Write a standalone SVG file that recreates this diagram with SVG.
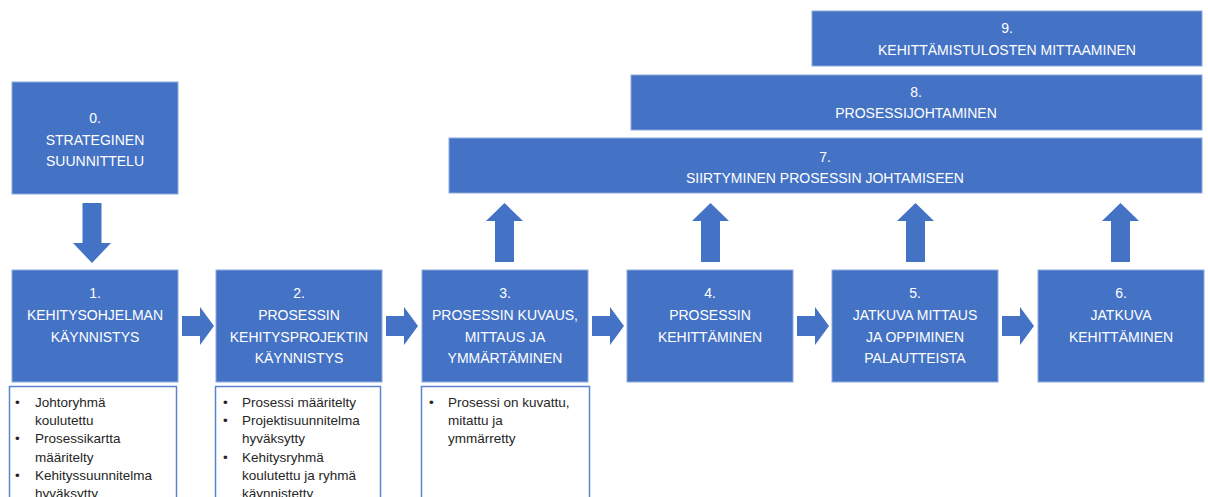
<svg xmlns="http://www.w3.org/2000/svg" width="1208" height="497" viewBox="0 0 1208 497">
<style>
.box{fill:#4472C4;stroke:#8eaadc;stroke-width:1}
.arr{fill:#4472C4}
.lbl{font-family:"Liberation Sans",Arial,sans-serif;font-size:14px;fill:#ffffff;text-anchor:middle}
.bb{fill:#ffffff;stroke:#5b85d0;stroke-width:1.5}
.bt{font-family:"Liberation Sans",Arial,sans-serif;font-size:13.5px;fill:#262626}
</style>
<rect width="1208" height="497" fill="#ffffff"/>
<g id="node9"><rect class="box" x="812" y="11" width="390" height="55"/>
<text class="lbl" x="1007" y="33">9.</text><text class="lbl" x="1007" y="55">KEHITTÄMISTULOSTEN MITTAAMINEN</text></g>
<g id="node8"><rect class="box" x="631" y="75" width="571" height="55"/>
<text class="lbl" x="916" y="97">8.</text><text class="lbl" x="916" y="118">PROSESSIJOHTAMINEN</text></g>
<g id="node7"><rect class="box" x="449" y="138" width="753" height="55"/>
<text class="lbl" x="825" y="162">7.</text><text class="lbl" x="825" y="183">SIIRTYMINEN PROSESSIN JOHTAMISEEN</text></g>
<g id="node0"><rect class="box" x="12" y="82" width="166" height="112"/>
<text class="lbl" x="95" y="123">0.</text><text class="lbl" x="95" y="145">STRATEGINEN</text><text class="lbl" x="95" y="166">SUUNNITTELU</text></g>
<g id="node1"><rect class="box" x="12" y="270" width="166" height="112"/>
<text class="lbl" x="95" y="298">1.</text><text class="lbl" x="95" y="320">KEHITYSOHJELMAN</text><text class="lbl" x="95" y="342">KÄYNNISTYS</text></g>
<g id="node2"><rect class="box" x="216" y="270" width="166" height="112"/>
<text class="lbl" x="299" y="298">2.</text><text class="lbl" x="299" y="320">PROSESSIN</text><text class="lbl" x="299" y="342">KEHITYSPROJEKTIN</text><text class="lbl" x="299" y="363">KÄYNNISTYS</text></g>
<g id="node3"><rect class="box" x="422" y="270" width="166" height="112"/>
<text class="lbl" x="505" y="298">3.</text><text class="lbl" x="505" y="320">PROSESSIN KUVAUS,</text><text class="lbl" x="505" y="342">MITTAUS JA</text><text class="lbl" x="505" y="363">YMMÄRTÄMINEN</text></g>
<g id="node4"><rect class="box" x="627" y="270" width="166" height="112"/>
<text class="lbl" x="710" y="298">4.</text><text class="lbl" x="710" y="320">PROSESSIN</text><text class="lbl" x="710" y="342">KEHITTÄMINEN</text></g>
<g id="node5"><rect class="box" x="832" y="270" width="166" height="112"/>
<text class="lbl" x="915" y="298">5.</text><text class="lbl" x="915" y="320">JATKUVA MITTAUS</text><text class="lbl" x="915" y="342">JA OPPIMINEN</text><text class="lbl" x="915" y="363">PALAUTTEISTA</text></g>
<g id="node6"><rect class="box" x="1038" y="270" width="166" height="112"/>
<text class="lbl" x="1121" y="298">6.</text><text class="lbl" x="1121" y="320">JATKUVA</text><text class="lbl" x="1121" y="342">KEHITTÄMINEN</text></g>
<g id="notes1"><rect class="bb" x="9.5" y="386.5" width="167" height="130"/>
<text class="bt" x="15" y="407">•</text><text class="bt" x="35" y="407">Johtoryhmä</text>
<text class="bt" x="35" y="425">koulutettu</text>
<text class="bt" x="15" y="443">•</text><text class="bt" x="35" y="443">Prosessikartta</text>
<text class="bt" x="35" y="462">määritelty</text>
<text class="bt" x="15" y="480">•</text><text class="bt" x="35" y="480">Kehityssuunnitelma</text>
<text class="bt" x="35" y="498">hyväksytty</text></g>
<g id="notes2"><rect class="bb" x="215.5" y="386.5" width="165" height="130"/>
<text class="bt" x="223" y="407">•</text><text class="bt" x="242" y="407">Prosessi määritelty</text>
<text class="bt" x="223" y="425">•</text><text class="bt" x="242" y="425">Projektisuunnitelma</text>
<text class="bt" x="242" y="443">hyväksytty</text>
<text class="bt" x="223" y="462">•</text><text class="bt" x="242" y="462">Kehitysryhmä</text>
<text class="bt" x="242" y="480">koulutettu ja ryhmä</text>
<text class="bt" x="242" y="498">käynnistetty</text></g>
<g id="notes3"><rect class="bb" x="421.5" y="386.5" width="168" height="130"/>
<text class="bt" x="429" y="407">•</text><text class="bt" x="448" y="407">Prosessi on kuvattu,</text>
<text class="bt" x="448" y="425">mitattu ja</text>
<text class="bt" x="448" y="443">ymmärretty</text></g>
<g id="connectors">
<path class="arr" d="M82.5,203 L101.5,203 L101.5,243 L111,243 L92,263 L73,243 L82.5,243 Z"/>
<path class="arr" d="M182,316 L200,316 L200,307 L214,326 L200,345 L200,336 L182,336 Z"/>
<path class="arr" d="M386,316 L404,316 L404,307 L418,326 L404,345 L404,336 L386,336 Z"/>
<path class="arr" d="M592,316 L610,316 L610,307 L624,326 L610,345 L610,336 L592,336 Z"/>
<path class="arr" d="M797,316 L815,316 L815,307 L829,326 L815,345 L815,336 L797,336 Z"/>
<path class="arr" d="M1002,316 L1020,316 L1020,307 L1034,326 L1020,345 L1020,336 L1002,336 Z"/>
<path class="arr" d="M495,262 L495,221 L486,221 L504.5,203 L523,221 L514,221 L514,262 Z"/>
<path class="arr" d="M701,262 L701,221 L692,221 L710.5,203 L729,221 L720,221 L720,262 Z"/>
<path class="arr" d="M906,262 L906,221 L897,221 L915.5,203 L934,221 L925,221 L925,262 Z"/>
<path class="arr" d="M1111,262 L1111,221 L1102,221 L1120.5,203 L1139,221 L1130,221 L1130,262 Z"/>
</g>
</svg>
